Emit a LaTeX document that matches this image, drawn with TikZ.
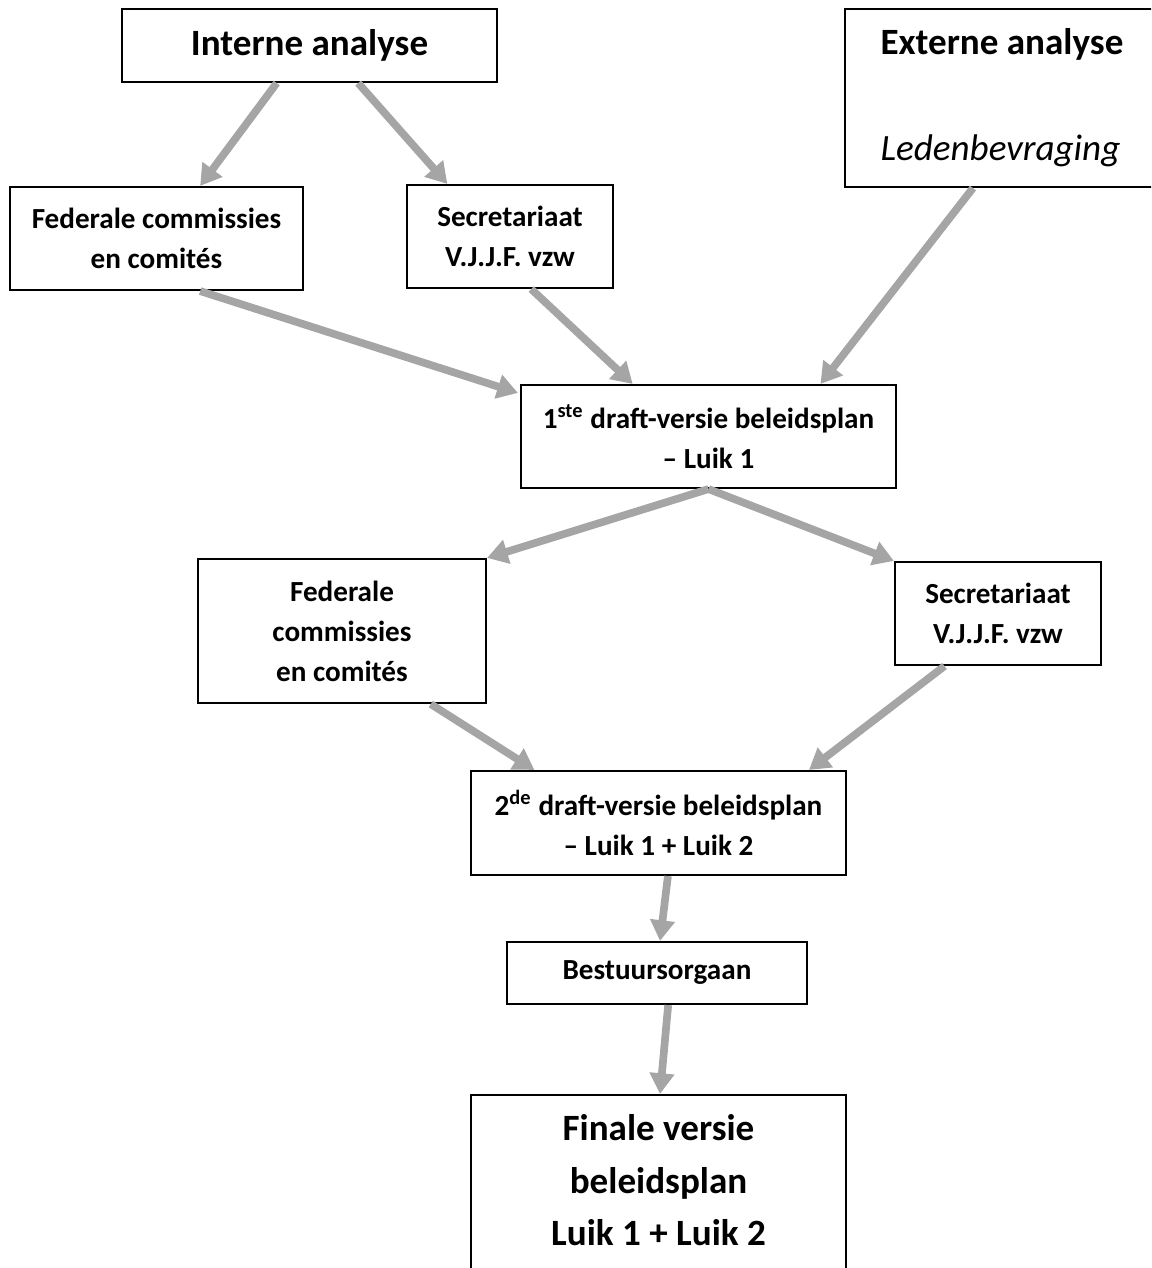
\documentclass[tikz,border=0pt]{standalone}
\usepackage{fontspec}
\setmainfont{Carlito}
\usetikzlibrary{arrows.meta,calc}
\definecolor{arrgray}{HTML}{A5A5A5}
\newcommand\pxu{0.3774pt}
\tikzset{
  boxsty/.style={draw=black, line width=0.8pt, rectangle, inner sep=0pt, align=center,
    font=\bfseries\fontsize{11}{15.1}\selectfont},
  boxdim/.style 2 args={minimum width={#1*\pxu}, minimum height={#2*\pxu}},
  bigtxt/.style={font=\bfseries\fontsize{14}{19.8}\selectfont},
  arr/.style={draw=arrgray, line width=2.9pt, -{Triangle[width=9pt,length=7.8pt]}},
}
\begin{document}
\begin{tikzpicture}[x=\pxu, y=-\pxu]
\useasboundingbox (0,0) rectangle (1151,1268);
\clip (0,0) rectangle (1151,1268);

% boxes
\node[boxsty, boxdim={375}{73}, bigtxt] (inter) at (309.5,45.5) {Interne analyse};
\node[boxsty, boxdim={320}{178}] (ext) at (1005,98) {};
\node[anchor=base west, bigtxt, inner sep=0pt] (extt) at (880,55) {Externe analyse};
\node[anchor=base west, font=\itshape\fontsize{14}{19.8}\selectfont, inner sep=0pt] (extl) at (880,160) {Ledenbevraging};

\node[boxsty, boxdim={293}{103}] (fed1) at (156.5,238.5) {Federale commissies\\en comités};
\node[boxsty, boxdim={206}{103}] (sec1) at (510,236.5) {Secretariaat\\V.J.J.F. vzw};

\node[boxsty, boxdim={375}{103}] (d1) at (708.5,436.5) {1\textsuperscript{ste} draft-versie beleidsplan\\– Luik 1};

\node[boxsty, boxdim={288}{144}] (fed2) at (342,631) {Federale\\commissies\\en comités};
\node[boxsty, boxdim={206}{103}] (sec2) at (998,613.5) {Secretariaat\\V.J.J.F. vzw};

\node[boxsty, boxdim={375}{104}] (d2) at (658.5,823) {2\textsuperscript{de} draft-versie beleidsplan\\– Luik 1 + Luik 2};

\node[boxsty, boxdim={300}{62}] (best) at (657,973) {Bestuursorgaan};

\node[boxsty, boxdim={375}{225}] (fin) at (658.5,1207.5) {};
\node[anchor=base, bigtxt, inner sep=0pt] (fin1) at (658.5,1140) {Finale versie};
\node[anchor=base, bigtxt, inner sep=0pt] (fin2) at (658.5,1193) {beleidsplan};
\node[anchor=base, bigtxt, inner sep=0pt] (fin3) at (658.5,1245) {Luik 1 + Luik 2};

% arrows
\draw[arr] ($(inter.south west)!0.413!(inter.south east)$) -- ($(fed1.north west)!0.648!(fed1.north east)$);
\draw[arr] ($(inter.south west)!0.629!(inter.south east)$) -- ($(sec1.north west)!0.199!(sec1.north east)$);
\draw[arr] ($(fed1.south west)!0.648!(fed1.south east)$) -- ($(d1.north west)+(-2,9)$);
\draw[arr] ($(sec1.south west)!0.602!(sec1.south east)$) -- ($(d1.north west)!0.299!(d1.north east)$);
\draw[arr] ($(ext.south west)+(129,0)$) -- ($(d1.north west)!0.797!(d1.north east)$);
\draw[arr] (d1.south) -- (fed2.north east);
\draw[arr] (d1.south) -- (sec2.north west);
\draw[arr] ($(fed2.south west)!0.806!(fed2.south east)$) -- ($(d2.north west)!0.171!(d2.north east)$);
\draw[arr] ($(sec2.south west)!0.243!(sec2.south east)$) -- ($(d2.north west)!0.899!(d2.north east)$);
\draw[arr] ($(d2.south west)!0.525!(d2.south east)$) -- ($(best.north west)!0.51!(best.north east)$);
\draw[arr] ($(best.south west)!0.537!(best.south east)$) -- ($(fin.north west)!0.504!(fin.north east)$);
\end{tikzpicture}
\end{document}
